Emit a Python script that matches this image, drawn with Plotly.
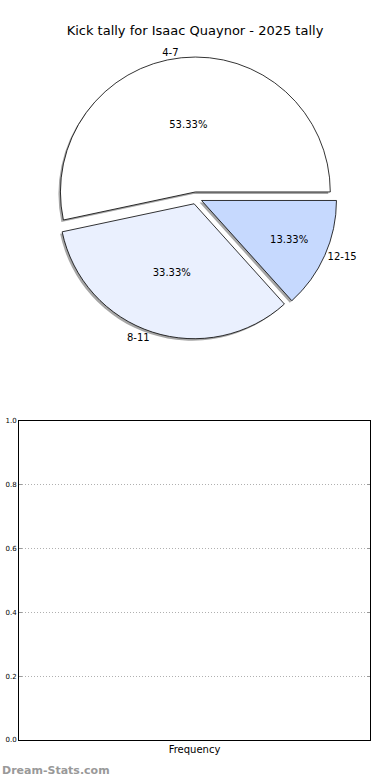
import plotly.graph_objects as go

# ---- data ----
categories = ["4-7", "8-11", "12-15"]
values = [8, 5, 2]
slice_colors = ["#FFFFFF", "#EAF0FE", "#C6D9FE"]
pulls = [0.045, 0.045, 0.045]
y_ticks = [0.0, 0.2, 0.4, 0.6, 0.8, 1.0]
freq_x = []
freq_y = []

title_text = "Kick tally for Isaac Quaynor - 2025 tally"
FONT = "DejaVu Sans"

W, H = 390, 780
cx, cy, side = 196, 198, 282  # pie centre and domain size in pixels


def dom(cx_, cy_, s):
    return dict(x=[(cx_ - s / 2) / W, (cx_ + s / 2) / W],
                y=[(H - cy_ - s / 2) / H, (H - cy_ + s / 2) / H])


fig = go.Figure()

common = dict(labels=categories, values=values, sort=False,
              direction="counterclockwise", rotation=-102, pull=pulls)

# shadow
fig.add_trace(go.Pie(
    **common, domain=dom(cx - 2, cy + 2, side),
    marker=dict(colors=["#a6a6a6"] * 3, line=dict(width=0)),
    textinfo="none", showlegend=False, hoverinfo="skip",
))
# slices with percentages
fig.add_trace(go.Pie(
    **common, domain=dom(cx, cy, side),
    marker=dict(colors=slice_colors, line=dict(color="black", width=0.8)),
    texttemplate="%{percent:.2%}", textposition="inside",
    insidetextorientation="horizontal",
    textfont=dict(family=FONT, size=10, color="black"),
    showlegend=False,
))
# outside category labels
fig.add_trace(go.Pie(
    **common, domain=dom(cx, cy, side),
    marker=dict(colors=["rgba(0,0,0,0)"] * 3, line=dict(width=0)),
    textinfo="label", textposition="outside",
    textfont=dict(family=FONT, size=10, color="black"),
    showlegend=False, hoverinfo="skip",
))

# empty frequency axes
fig.add_trace(go.Scatter(x=freq_x, y=freq_y, mode="markers", showlegend=False,
                         xaxis="x", yaxis="y"))

fig.update_layout(
    width=W, height=H,
    margin=dict(l=0, r=0, t=0, b=0, autoexpand=False),
    paper_bgcolor="white", plot_bgcolor="white",
    font=dict(family=FONT, color="black"),
    title=dict(text=title_text, x=0.5, xanchor="center", y=1 - 30 / H,
               yanchor="middle", automargin=False,
               font=dict(family=FONT, size=13, color="black")),
    xaxis=dict(domain=[19 / W, 370 / W], range=[0, 1], showticklabels=False,
               ticks="", showgrid=False, zeroline=False, showline=True,
               linecolor="black", linewidth=1, mirror=True, automargin=False,
               title=dict(text="Frequency", font=dict(family=FONT, size=10),
                          standoff=5)),
    yaxis=dict(domain=[(H - 740) / H, (H - 421) / H], range=[0, 1],
               tickvals=y_ticks, tickformat=".1f", automargin=False,
               tickfont=dict(family=FONT, size=7), ticks="inside", ticklen=3,
               tickcolor="#999", showgrid=True, gridcolor="#b0b0b0",
               griddash="1px,2px", gridwidth=1, zeroline=False, showline=True,
               linecolor="black", linewidth=1, mirror="allticks"),
    annotations=[dict(text="Dream-Stats.com", x=0, y=(H - 770) / H,
                      xref="paper", yref="paper", xanchor="left",
                      yanchor="middle", showarrow=False,
                      font=dict(family=FONT, size=11, color="#999999",
                                weight="bold"))],
)

fig.write_html(
    "out.html",
    config={"displayModeBar": False},
    post_script="document.body.style.margin='0';document.body.style.padding='0';",
)
